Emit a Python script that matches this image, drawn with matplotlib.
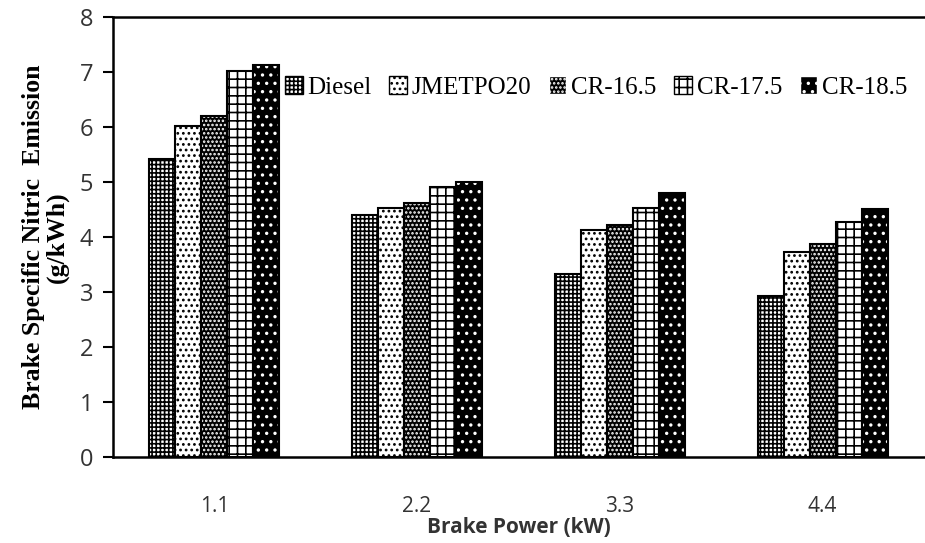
import matplotlib.pyplot as plt
import numpy as np

power = ['1.1', '2.2', '3.3', '4.4']
labels = ['Diesel', 'JMETPO20', 'CR-16.5', 'CR-17.5', 'CR-18.5']
diesel = [5.42, 4.40, 3.32, 2.92]
jmetpo20 = [6.02, 4.53, 4.13, 3.72]
cr165 = [6.20, 4.62, 4.22, 3.88]
cr175 = [7.02, 4.90, 4.53, 4.28]
cr185 = [7.13, 5.00, 4.80, 4.50]
series = [diesel, jmetpo20, cr165, cr175, cr185]

# (face colour, hatch colour, hatch)
styles = [('white', 'black', '++++'),
          ('white', 'black', '...'),
          ('black', 'white', '....'),
          ('white', 'black', '++'),
          ('black', 'white', '..')]

plt.rcParams['hatch.linewidth'] = 1.2

fig = plt.figure(figsize=(9.25, 5.43), dpi=100)
ax = fig.add_axes([0.122, 0.158, 0.877, 0.811])

x = np.arange(len(power))
w = 0.128
handles = []
for i, (vals, (fc, hc, h)) in enumerate(zip(series, styles)):
    pos = x + (i - 2) * w
    ax.bar(pos, vals, w, color=fc, edgecolor=hc, hatch=h, linewidth=0)
    ax.bar(pos, vals, w, fill=False, edgecolor='black', linewidth=1.5)
    handles.append(plt.Rectangle((0, 0), 1, 1, facecolor=fc, edgecolor=hc, hatch=h))

ax.set_xlim(-0.5, 3.5)
ax.set_ylim(0, 8)
ax.set_xticks(x)
ax.set_xticklabels(power, fontsize=15, family='Open Sans', color='#333333')
ax.set_yticks(range(9))
ax.set_yticklabels([str(v) for v in range(9)], fontsize=17, family='Open Sans', color='#333333')
ax.tick_params(axis='x', length=0, pad=28)
ax.tick_params(axis='y', length=7, width=1.5, pad=7)

for s in ['left', 'bottom', 'top']:
    ax.spines[s].set_linewidth(1.8)
ax.spines['right'].set_visible(False)

ax.set_ylabel('Brake Specific Nitric  Emission\n(g/kWh)', family='Liberation Serif',
              fontsize=18.5, fontweight='bold', labelpad=8, linespacing=1.0)
ax.set_xlabel('Brake Power (kW)', family='Open Sans', fontsize=15, fontweight='bold',
              labelpad=0, color='#333333')

ax.legend(handles, labels, ncol=5, frameon=False, loc='center left',
          bbox_to_anchor=(0.2, 0.84), prop={'family': 'Liberation Serif', 'size': 18},
          handlelength=0.7, handleheight=0.7, handletextpad=0.2, columnspacing=0.7,
          borderaxespad=0)

fig.savefig('out.png', dpi=100)
